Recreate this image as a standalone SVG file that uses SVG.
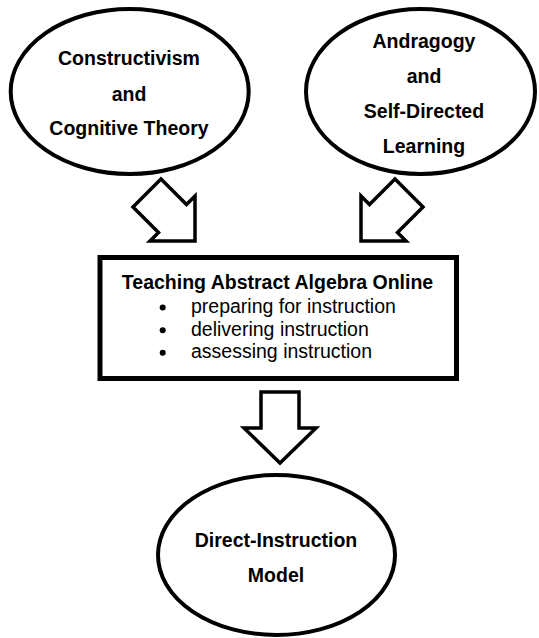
<svg xmlns="http://www.w3.org/2000/svg" width="539" height="638" viewBox="0 0 539 638">
<style>
.node{fill:#fff;stroke:#000;stroke-width:4}
.box{fill:#fff;stroke:#000;stroke-width:5}
.arrow{fill:#fff;stroke:#000;stroke-width:3.5;stroke-linejoin:miter}
.t{font-family:"Liberation Sans",Arial,sans-serif;font-size:19.5px;fill:#000}
.b{font-weight:bold;text-anchor:middle}
</style>
<rect width="539" height="638" fill="#fff"/>
<g id="constructivism">
<ellipse class="node" cx="129.7" cy="91.5" rx="119" ry="82.5"/>
<text class="t b" x="129" y="65">Constructivism</text>
<text class="t b" x="129" y="100.5">and</text>
<text class="t b" x="129" y="134.5">Cognitive Theory</text>
</g>
<g id="andragogy">
<ellipse class="node" cx="420.5" cy="91.5" rx="114.5" ry="82.5"/>
<text class="t b" x="424" y="47.7">Andragogy</text>
<text class="t b" x="424" y="82.5">and</text>
<text class="t b" x="424" y="118.3">Self-Directed</text>
<text class="t b" x="424" y="152.7">Learning</text>
</g>
<g id="teaching">
<rect class="box" x="100" y="257.5" width="356.5" height="121"/>
<text class="t b" x="277.5" y="289">Teaching Abstract Algebra Online</text>
<circle cx="162.7" cy="307.5" r="3"/>
<circle cx="162.7" cy="330.2" r="3"/>
<circle cx="162.7" cy="352.8" r="3"/>
<text class="t" x="191" y="313">preparing for instruction</text>
<text class="t" x="191" y="335.7">delivering instruction</text>
<text class="t" x="191" y="358.3">assessing instruction</text>
</g>
<g id="direct-instruction">
<ellipse class="node" cx="276.5" cy="555" rx="118.5" ry="80"/>
<text class="t b" x="276" y="547.3">Direct-Instruction</text>
<text class="t b" x="276" y="581.7">Model</text>
</g>
<g id="connectors">
<polygon class="arrow" points="161,179 186.5,204.5 195,196 195,241 150,241 158.5,232.5 133,207"/>
<polygon class="arrow" points="395,179 369.5,204.5 361,196 361,241 406,241 397.5,232.5 423,207"/>
<polygon class="arrow" points="261,392 299,392 299,428 316,428 280,463 244,428 261,428"/>
</g>
</svg>
